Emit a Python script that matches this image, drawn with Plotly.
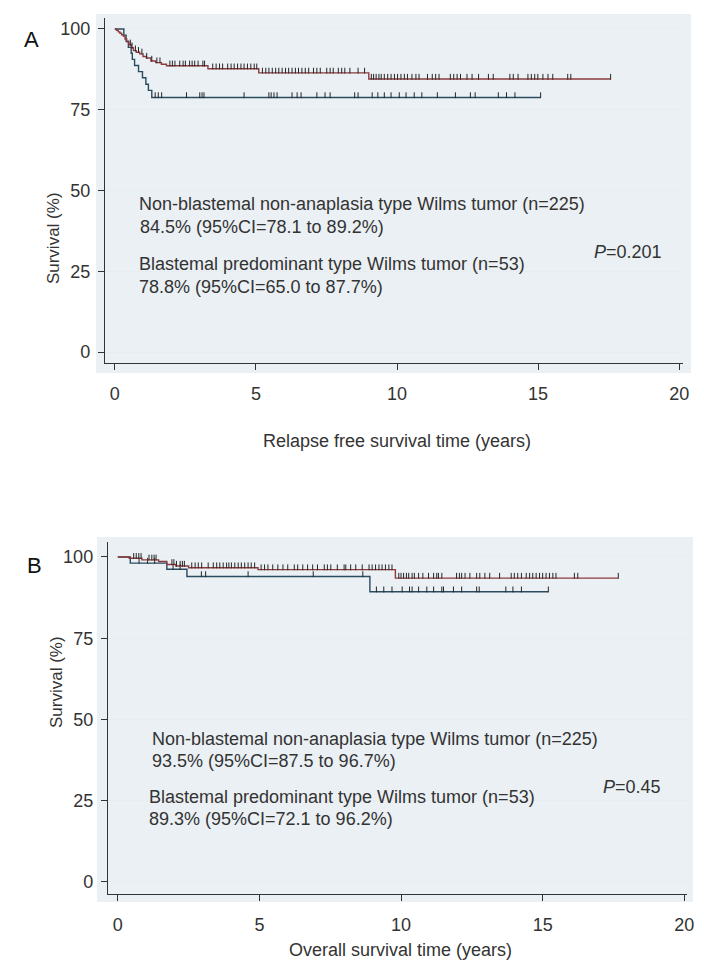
import numpy as np
import plotly.graph_objects as go

# ---------------- DATA ----------------
# Panel A: relapse-free survival (years, %)
rfs_non_t = [0, 0.06, 0.12, 0.18, 0.24, 0.30, 0.36, 0.42, 0.50, 0.58, 0.66, 0.76, 0.88, 1.00, 1.12, 1.28, 1.45, 1.65, 1.83, 3.30, 5.10, 9.00]
rfs_non_s = [100, 99.6, 99.1, 98.7, 98.2, 97.8, 96.9, 96.0, 95.1, 94.2, 93.3, 92.8, 92.3, 91.5, 91.0, 90.1, 89.6, 89.1, 88.6, 87.7, 86.4, 84.5]
rfs_non_end = 17.57
rfs_non_cens = [0.55, 0.61, 0.73, 0.84, 0.96, 1.13, 1.31, 1.49, 1.60, 1.95, 2.04, 2.13, 2.30, 2.42, 2.50, 2.65, 2.74, 2.83, 2.95, 3.12, 3.18,
                3.47, 3.59, 3.71, 3.82, 4.00, 4.12, 4.23, 4.35, 4.47, 4.58, 4.70, 4.82, 4.94, 5.03, 5.23, 5.35, 5.46, 5.58, 5.70, 5.81,
                5.93, 6.05, 6.16, 6.28, 6.40, 6.51, 6.63, 6.75, 6.87, 7.04, 7.16, 7.28, 7.51, 7.63, 7.74, 7.92, 8.04, 8.15, 8.33, 8.62,
                8.85, 9.09, 9.17, 9.26, 9.36, 9.44, 9.55, 9.67, 9.79, 9.91, 10.02, 10.14, 10.26, 10.37, 10.53, 10.67, 10.78, 11.08,
                11.25, 11.37, 11.49, 11.89, 12.01, 12.13, 12.25, 12.48, 12.66, 12.89, 13.24, 13.41, 14.00, 14.12, 14.29, 14.64, 14.76,
                14.88, 14.99, 15.17, 15.35, 15.52, 16.05, 16.16, 17.57]

rfs_bla_t = [0, 0.32, 0.40, 0.48, 0.58, 0.62, 0.70, 0.84, 0.98, 1.10, 1.19, 1.31]
rfs_bla_s = [100, 98.1, 96.2, 94.3, 92.5, 90.6, 88.7, 86.8, 84.9, 82.9, 81.0, 78.8]
rfs_bla_end = 15.09
rfs_bla_cens = [1.43, 1.54, 1.66, 2.54, 3.01, 3.09, 3.16, 4.58, 5.46, 5.54, 5.64, 5.75, 6.28, 6.46, 6.60, 7.16, 7.45, 7.63, 8.50,
                8.62, 9.12, 9.32, 9.55, 9.79, 10.08, 10.32, 10.61, 10.88, 11.43, 12.07, 12.60, 12.77, 13.59, 13.88, 14.18, 15.09]

# Panel B: overall survival
os_non_t = [0, 0.40, 0.85, 1.44, 1.73, 2.05, 2.50, 4.95, 9.80]
os_non_s = [100, 99.6, 99.1, 98.6, 97.7, 97.2, 96.7, 96.1, 93.5]
os_non_end = 17.67
os_non_cens = [0.56, 0.65, 0.74, 0.82, 1.10, 1.20, 1.28, 1.35, 1.91, 1.98, 2.07, 2.20, 2.28, 2.35,
               2.61, 2.73, 2.84, 2.96, 3.19, 3.37, 3.49, 3.60, 3.72, 3.84, 3.92, 4.01, 4.13, 4.25, 4.36, 4.48, 4.60, 4.71, 4.83,
               5.06, 5.18, 5.30, 5.47, 5.65, 5.83, 6.00, 6.23, 6.35, 6.53, 6.70, 6.88, 7.05, 7.29, 7.40, 7.52, 7.75, 7.99,
               8.05, 8.22, 8.40, 8.63, 8.87, 8.98, 9.10, 9.22, 9.33, 9.45, 9.57, 9.68,
               9.92, 10.00, 10.09, 10.19, 10.27, 10.39, 10.47, 10.62, 10.77, 10.97, 11.15, 11.26, 11.32, 11.44, 11.96, 12.06,
               12.14, 12.26, 12.43, 12.67, 12.78, 12.96, 13.13, 13.48, 13.89, 14.00, 14.12, 14.25, 14.42, 14.54, 14.65, 14.77,
               14.89, 15.00, 15.12, 15.24, 15.36, 15.47, 16.12, 16.24, 17.67]

os_bla_t = [0, 0.44, 1.73, 2.44, 8.90]
os_bla_s = [100, 98.1, 96.2, 94.0, 89.3]
os_bla_end = 15.20
os_bla_cens = [0.75, 1.05, 1.30, 1.95, 2.20, 2.95, 3.10, 4.60, 6.90, 8.65,
               9.13, 9.39, 9.68, 10.04, 10.30, 10.39, 10.62, 10.91, 11.15, 11.44, 11.50, 11.85, 12.14, 12.67, 12.76,
               13.70, 13.95, 14.25, 15.20]

x_ticks = [0, 5, 10, 15, 20]
y_ticks = [0, 25, 50, 75, 100]

label_non = "Non-blastemal non-anaplasia type Wilms tumor (n=225)"
label_bla = "Blastemal predominant type Wilms tumor (n=53)"
rfs_non_txt = "84.5% (95%CI=78.1 to 89.2%)"
rfs_bla_txt = "78.8% (95%CI=65.0 to 87.7%)"
os_non_txt = "93.5% (95%CI=87.5 to 96.7%)"
os_bla_txt = "89.3% (95%CI=72.1 to 96.2%)"
rfs_p = "<i>P</i>=0.201"
os_p = "<i>P</i>=0.45"

# ---------------- STYLE ----------------
RED = "#8e3b3e"
NAVY = "#2a4b60"
TICK = "#262626"
FONT = "Liberation Sans, Arial, sans-serif"
TXT = "#333333"
W, H = 704, 974


def step_val(times, survs, t):
    i = np.searchsorted(np.asarray(times), t, side="right") - 1
    return np.asarray(survs)[i]


fig = go.Figure()


def add_curve(t, s, end, cens, color, xa, ya):
    xs = list(t) + [end]
    ys = list(s) + [s[-1]]
    fig.add_trace(go.Scatter(x=xs, y=ys, mode="lines", line=dict(color=color, width=1.4, shape="hv"),
                             xaxis=xa, yaxis=ya, showlegend=False, hoverinfo="skip"))
    cx, cy = [], []
    for c in cens:
        v = float(step_val(t, s, c))
        cx += [c, c, None]
        cy += [v - 0.2, v + 1.6, None]
    fig.add_trace(go.Scatter(x=cx, y=cy, mode="lines", line=dict(color=TICK, width=1),
                             xaxis=xa, yaxis=ya, showlegend=False, hoverinfo="skip"))


add_curve(rfs_bla_t, rfs_bla_s, rfs_bla_end, rfs_bla_cens, NAVY, "x", "y")
add_curve(rfs_non_t, rfs_non_s, rfs_non_end, rfs_non_cens, RED, "x", "y")
add_curve(os_bla_t, os_bla_s, os_bla_end, os_bla_cens, NAVY, "x2", "y2")
add_curve(os_non_t, os_non_s, os_non_end, os_non_cens, RED, "x2", "y2")


def px_x(p):
    return p / W


def px_y(p):
    return 1 - p / H


xcommon = dict(tickvals=x_ticks, ticks="outside", ticklen=6, tickcolor="#333", tickwidth=1.2,
               showline=True, linecolor="#333", linewidth=1.3, showgrid=False, zeroline=False,
               tickfont=dict(family=FONT, size=18, color=TXT), ticklabelstandoff=8)
ycommon = dict(tickvals=y_ticks, ticks="outside", ticklen=6, tickcolor="#333", tickwidth=1.2,
               showline=True, linecolor="#333", linewidth=1.3, showgrid=True, gridcolor="#e6ecef", gridwidth=1,
               zeroline=False, tickfont=dict(family=FONT, size=18, color=TXT), ticklabelstandoff=4)

fig.update_layout(
    width=W, height=H, margin=dict(l=0, r=0, t=0, b=0),
    paper_bgcolor="white", plot_bgcolor="white",
    xaxis=dict(domain=[px_x(106), px_x(690)], range=[-0.35, 20.14], anchor="y", **xcommon),
    yaxis=dict(domain=[px_y(363), px_y(18)], range=[-3.4, 103.4], anchor="x", **ycommon),
    xaxis2=dict(domain=[px_x(109), px_x(694)], range=[-0.35, 20.1], anchor="y2", **xcommon),
    yaxis2=dict(domain=[px_y(894), px_y(542)], range=[-3.7, 104.6], anchor="x2", **ycommon),
)

# light frame behind each plot region
for (x0, x1, y0, y1) in [(97, 698, 14, 373), (98, 700, 537, 902)]:
    fig.add_shape(type="rect", xref="paper", yref="paper", x0=px_x(x0), x1=px_x(x1), y0=px_y(y1), y1=px_y(y0),
                  fillcolor="#eaf0f3", line=dict(width=0), layer="below")

tf = dict(family=FONT, size=18, color=TXT)
# in-plot annotations
for xa, ya, items in [
    ("x", "y", [(0.80, 45.7, label_non), (0.82, 38.6, rfs_non_txt), (0.78, 27.1, label_bla), (0.78, 20.0, rfs_bla_txt),
                (16.9, 30.9, rfs_p)]),
    ("x2", "y2", [(1.15, 43.9, label_non), (1.15, 37.2, os_non_txt), (1.02, 26.0, label_bla), (1.02, 19.4, os_bla_txt),
                  (17.06, 29.1, os_p)]),
]:
    for (x, y, t) in items:
        fig.add_annotation(x=x, y=y, xref=xa, yref=ya, text=t, showarrow=False, xanchor="left", yanchor="middle",
                           font=tf)

# axis titles and panel letters
fig.add_annotation(x=px_x(42), y=px_y(190), xref="paper", yref="paper", text="Survival (%)", textangle=-90,
                   showarrow=False, font=dict(family=FONT, size=17, color=TXT))
fig.add_annotation(x=px_x(45), y=px_y(730), xref="paper", yref="paper", text="Survival (%)", textangle=-90,
                   showarrow=False, font=dict(family=FONT, size=17, color=TXT))
fig.add_annotation(x=px_x(401), y=px_y(441), xref="paper", yref="paper", text="Relapse free survival time (years)",
                   showarrow=False, font=dict(family=FONT, size=18, color=TXT))
fig.add_annotation(x=px_x(405), y=px_y(962), xref="paper", yref="paper", text="Overall survival time (years)",
                   showarrow=False, font=dict(family=FONT, size=18, color=TXT))
fig.add_annotation(x=px_x(22), y=px_y(25), xref="paper", yref="paper", text="A", showarrow=False,
                   font=dict(family=FONT, size=22, color="#111"))
fig.add_annotation(x=px_x(25), y=px_y(565), xref="paper", yref="paper", text="B", showarrow=False,
                   font=dict(family=FONT, size=22, color="#111"))

fig.write_html("out.html")
